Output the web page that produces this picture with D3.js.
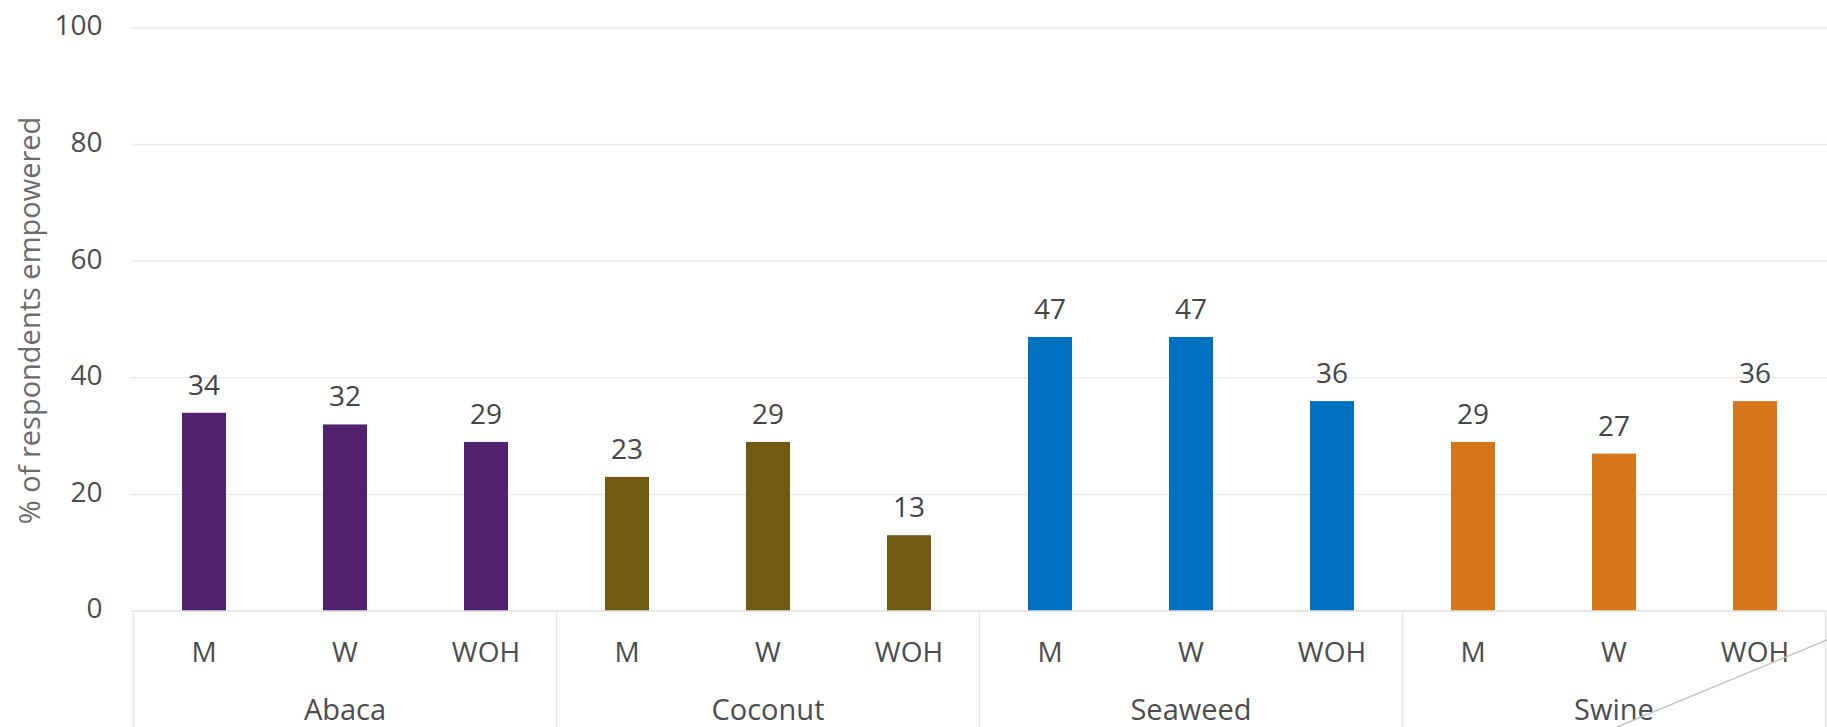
<!DOCTYPE html>
<html>
<head>
<meta charset="utf-8">
<script src="https://cdn.jsdelivr.net/npm/d3@7"></script>
<style>
  html, body { margin: 0; padding: 0; background: #ffffff; }
  svg { display: block; }
  text { font-family: "Open Sans", "Noto Sans", sans-serif; }
</style>
</head>
<body>
<script>
// Value chain groups, respondent groups inside each, and % empowered
const groups = ["Abaca", "Coconut", "Seaweed", "Swine"];
const respondents = ["M", "W", "WOH"];
const abaca = [34, 32, 29];
const coconut = [23, 29, 13];
const seaweed = [47, 47, 36];
const swine = [29, 27, 36];
const yTicks = [0, 20, 40, 60, 80, 100];
const groupColors = ["#51226f", "#735a12", "#0070c0", "#d6761b"];
const yTitle = "% of respondents empowered";

const seriesByGroup = [abaca, coconut, seaweed, swine];
const rows = [];
groups.forEach((g, gi) => {
  respondents.forEach((r, ri) => {
    rows.push({ group: g, who: r, value: seriesByGroup[gi][ri], color: groupColors[gi] });
  });
});

const W = 1827, H = 727;
const plot = { left: 133.5, right: 1825.5, top: 28, bottom: 611 };

const svg = d3.select("body").append("svg")
  .attr("width", W).attr("height", H);

const y = d3.scaleLinear().domain([0, 100]).range([plot.bottom, plot.top]);
const xGroup = d3.scaleBand().domain(groups).range([plot.left, plot.right]).padding(0);
const xSub = d3.scaleBand().domain(respondents).range([0, xGroup.bandwidth()])
  .paddingInner(0.688).paddingOuter(0.344);

// Horizontal gridlines
svg.append("g")
  .selectAll("line")
  .data(yTicks)
  .join("line")
  .attr("x1", plot.left - 3)
  .attr("x2", W)
  .attr("y1", d => y(d))
  .attr("y2", d => y(d))
  .attr("stroke", "#ebebeb")
  .attr("stroke-width", 1.5);

// Y axis tick labels
const yAxis = d3.axisLeft(y).tickValues(yTicks).tickSize(0).tickPadding(0);
const yg = svg.append("g")
  .attr("transform", `translate(${plot.left - 31},-2)`)
  .call(yAxis);
yg.select(".domain").remove();
yg.selectAll("text")
  .attr("font-size", 28)
  .attr("fill", "#4d4d4d")
  .attr("font-family", "Open Sans, sans-serif");

// Y axis title
svg.append("text")
  .attr("transform", `translate(40,${(113 + 528) / 2}) rotate(-90)`)
  .attr("text-anchor", "middle")
  .attr("font-size", 29)
  .attr("fill", "#6b6b6b")
  .text(yTitle);

// Bars
svg.append("g")
  .selectAll("rect")
  .data(rows)
  .join("rect")
  .attr("x", d => xGroup(d.group) + xSub(d.who))
  .attr("width", xSub.bandwidth())
  .attr("y", d => y(d.value))
  .attr("height", d => y(0) - y(d.value))
  .attr("fill", d => d.color);

// Value labels above bars
svg.append("g")
  .selectAll("text")
  .data(rows)
  .join("text")
  .attr("x", d => xGroup(d.group) + xSub(d.who) + xSub.bandwidth() / 2)
  .attr("y", d => y(d.value) - 18)
  .attr("text-anchor", "middle")
  .attr("font-size", 28)
  .attr("fill", "#454545")
  .text(d => d.value);

// Category axis: baseline and group separators
const axisG = svg.append("g");
axisG.append("line")
  .attr("x1", plot.left).attr("x2", W)
  .attr("y1", plot.bottom).attr("y2", plot.bottom)
  .attr("stroke", "#e3e3e3").attr("stroke-width", 1.5);

const edges = groups.map(g => xGroup(g)).concat([plot.right]);
axisG.selectAll(".sep")
  .data(edges)
  .join("line")
  .attr("class", "sep")
  .attr("x1", d => d).attr("x2", d => d)
  .attr("y1", plot.bottom).attr("y2", H)
  .attr("stroke", "#e6e6e6").attr("stroke-width", 1.5);

// Inner labels (respondent groups)
axisG.selectAll(".sub")
  .data(rows)
  .join("text")
  .attr("class", "sub")
  .attr("x", d => xGroup(d.group) + xSub(d.who) + xSub.bandwidth() / 2)
  .attr("y", 662)
  .attr("text-anchor", "middle")
  .attr("font-size", 28)
  .attr("fill", "#4d4d4d")
  .text(d => d.who);

// Outer labels (value chains)
axisG.selectAll(".grp")
  .data(groups)
  .join("text")
  .attr("class", "grp")
  .attr("x", d => xGroup(d) + xGroup.bandwidth() / 2)
  .attr("y", 720)
  .attr("text-anchor", "middle")
  .attr("font-size", 29)
  .attr("fill", "#4d4d4d")
  .text(d => d);

// Thin connector line crossing the lower right corner
const swineMid = xGroup("Swine") + xGroup.bandwidth() / 2;
svg.append("line")
  .attr("x1", swineMid + 3).attr("y1", H)
  .attr("x2", W).attr("y2", H - 87)
  .attr("stroke", "#c4c4c4").attr("stroke-width", 1.5);
</script>
</body>
</html>
